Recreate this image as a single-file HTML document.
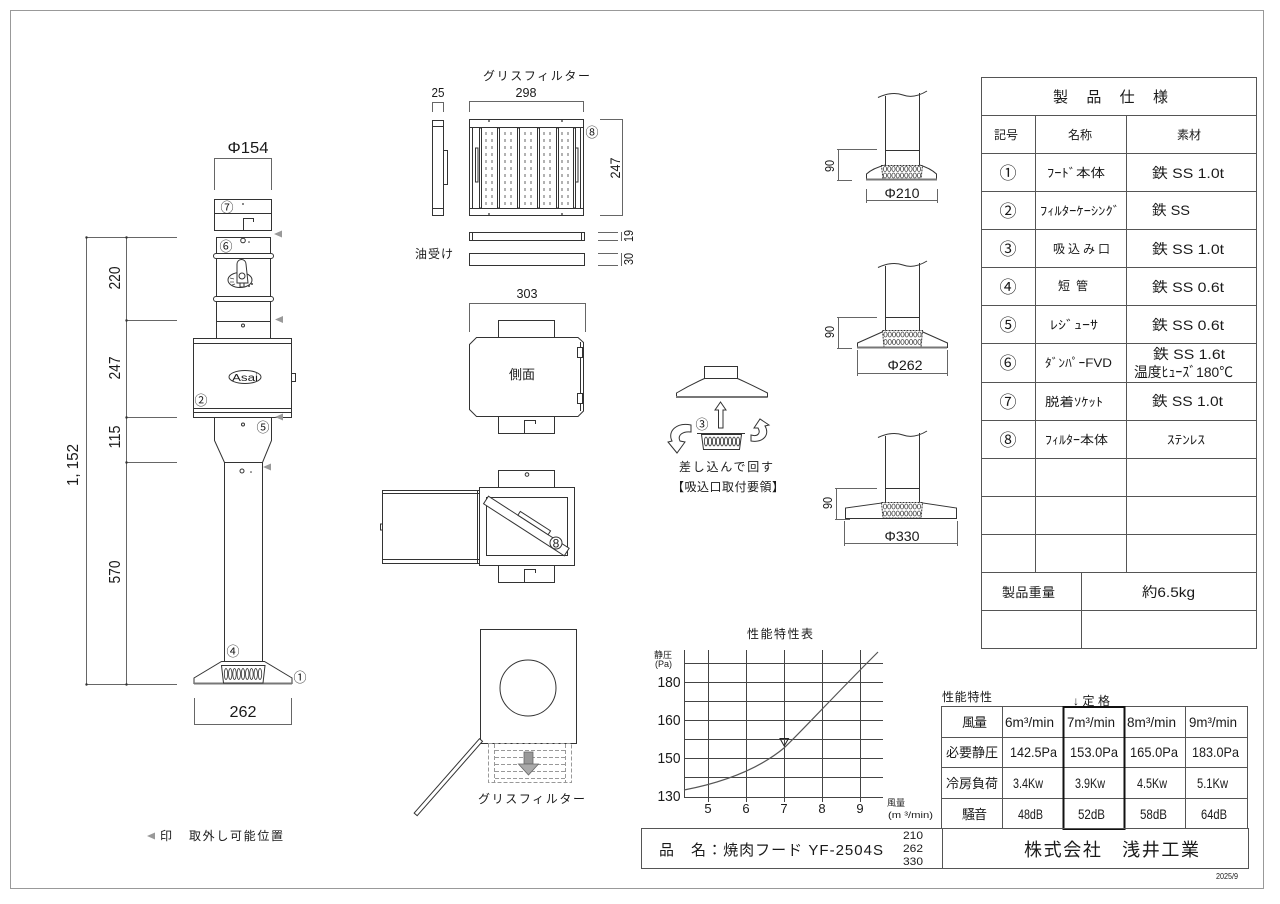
<!DOCTYPE html>
<html><head><meta charset="utf-8">
<style>
html,body{margin:0;padding:0;background:#fff;}
svg{display:block;}
text{font-family:"Liberation Sans","Noto Sans CJK JP",sans-serif;fill:#1a1a1a;}
.l{stroke:#333;stroke-width:1;fill:none;}
.lw{stroke:#333;stroke-width:1;fill:#fff;}
.d{stroke:#666;stroke-width:1;fill:none;}
.g{fill:#999;stroke:none;}
.t{stroke:#555;stroke-width:1;fill:none;}
</style></head><body>
<svg width="1280" height="904" viewBox="0 0 1280 904" xmlns="http://www.w3.org/2000/svg">
<defs>
<g id="ov9" fill="none" stroke="#444" stroke-width="0.8">
<ellipse cx="0" cy="0" rx="1.6" ry="2.5"/><ellipse cx="4.25" cy="0" rx="1.6" ry="2.5"/><ellipse cx="8.5" cy="0" rx="1.6" ry="2.5"/><ellipse cx="12.75" cy="0" rx="1.6" ry="2.5"/><ellipse cx="17" cy="0" rx="1.6" ry="2.5"/><ellipse cx="21.25" cy="0" rx="1.6" ry="2.5"/><ellipse cx="25.5" cy="0" rx="1.6" ry="2.5"/><ellipse cx="29.75" cy="0" rx="1.6" ry="2.5"/><ellipse cx="34" cy="0" rx="1.6" ry="2.5"/>
</g>
<g id="ovT" fill="none" stroke="#333" stroke-width="0.8">
<ellipse cx="0" cy="0" rx="1.7" ry="5.5"/><ellipse cx="4.25" cy="0" rx="1.7" ry="5.5"/><ellipse cx="8.5" cy="0" rx="1.7" ry="5.5"/><ellipse cx="12.75" cy="0" rx="1.7" ry="5.5"/><ellipse cx="17" cy="0" rx="1.7" ry="5.5"/><ellipse cx="21.25" cy="0" rx="1.7" ry="5.5"/><ellipse cx="25.5" cy="0" rx="1.7" ry="5.5"/><ellipse cx="29.75" cy="0" rx="1.7" ry="5.5"/><ellipse cx="34" cy="0" rx="1.7" ry="5.5"/>
</g>
</defs>

<!-- page border -->
<rect x="10.5" y="10.5" width="1253" height="878" fill="none" stroke="#999"/>

<!-- ============ LEFT ELEVATION ============ -->
<g class="d">
<line x1="86.5" y1="237" x2="86.5" y2="684"/>
<line x1="126.5" y1="237" x2="126.5" y2="684"/>
<line x1="86" y1="237.5" x2="177" y2="237.5"/>
<line x1="126" y1="320.5" x2="177" y2="320.5"/>
<line x1="126" y1="417.5" x2="177" y2="417.5"/>
<line x1="126" y1="462.5" x2="177" y2="462.5"/>
<line x1="86" y1="684.5" x2="177" y2="684.5"/>
<line x1="214.5" y1="158" x2="214.5" y2="190"/>
<line x1="271.5" y1="158" x2="271.5" y2="190"/>
<line x1="214" y1="158.5" x2="272" y2="158.5"/>
<line x1="194.5" y1="698" x2="194.5" y2="724"/>
<line x1="291.5" y1="698" x2="291.5" y2="724"/>
<line x1="194" y1="724.5" x2="292" y2="724.5"/>
</g>
<g fill="#333">
<circle cx="86.5" cy="237.5" r="1.2"/><circle cx="126.5" cy="237.5" r="1.2"/><circle cx="126.5" cy="320.5" r="1.2"/><circle cx="126.5" cy="417.5" r="1.2"/><circle cx="126.5" cy="462.5" r="1.2"/><circle cx="86.5" cy="684.5" r="1.2"/><circle cx="126.5" cy="684.5" r="1.2"/>
</g>
<text transform="translate(120,278) rotate(-90)" text-anchor="middle" font-size="16" textLength="23" lengthAdjust="spacingAndGlyphs">220</text>
<text transform="translate(120,368) rotate(-90)" text-anchor="middle" font-size="16" textLength="23" lengthAdjust="spacingAndGlyphs">247</text>
<text transform="translate(120,437) rotate(-90)" text-anchor="middle" font-size="16" textLength="23" lengthAdjust="spacingAndGlyphs">115</text>
<text transform="translate(120,572) rotate(-90)" text-anchor="middle" font-size="16" textLength="23" lengthAdjust="spacingAndGlyphs">570</text>
<text transform="translate(78,465) rotate(-90)" text-anchor="middle" font-size="16" textLength="42" lengthAdjust="spacingAndGlyphs">1, 152</text>
<text x="248" y="153" text-anchor="middle" font-size="16" textLength="41" lengthAdjust="spacingAndGlyphs">Φ154</text>

<!-- socket 7 -->
<rect class="lw" x="214.5" y="199.5" width="57" height="31"/>
<line class="l" x1="214" y1="213.5" x2="272" y2="213.5"/>
<path class="l" d="M243.5,230 V218.5 H253.5 V222"/>
<circle cx="243" cy="204" r="0.9" fill="#333"/>
<text x="227" y="212" text-anchor="middle" font-size="13">⑦</text>
<!-- damper 6 -->
<rect class="lw" x="216.5" y="237.5" width="54" height="101"/>
<rect class="lw" x="213.5" y="253.5" width="60" height="5" rx="2.5"/>
<rect class="lw" x="213.5" y="296.5" width="60" height="5" rx="2.5"/>
<line class="l" x1="216" y1="321.5" x2="271" y2="321.5"/>
<text x="226" y="251" text-anchor="middle" font-size="13">⑥</text>
<circle class="l" cx="243" cy="240.5" r="2.3"/>
<circle cx="249" cy="242" r="0.8" fill="#333"/>
<circle class="l" cx="243" cy="325.5" r="1.5"/>
<ellipse class="l" cx="240" cy="280" rx="12" ry="7.5"/>
<path class="lw" d="M237,264 a4.5,4.5 0 0 1 9,0 L248,283 L237,283 Z"/>
<circle class="l" cx="242" cy="276" r="3"/>
<rect class="l" x="240" y="283" width="4" height="4"/>
<g stroke="#444" stroke-width="0.7"><line x1="230" y1="278" x2="234" y2="279"/><line x1="230" y1="282" x2="234" y2="282"/><line x1="232" y1="285" x2="235" y2="284"/></g>
<circle cx="249" cy="286" r="1" fill="#444"/><circle cx="252" cy="284" r="1" fill="#444"/>
<!-- casing 2 -->
<rect class="lw" x="193.5" y="338.5" width="98" height="79"/>
<line class="l" x1="193" y1="343.5" x2="291" y2="343.5"/>
<line class="l" x1="193" y1="408.5" x2="291" y2="408.5"/>
<line class="l" x1="193" y1="412.5" x2="291" y2="412.5"/>
<ellipse class="l" cx="245" cy="377" rx="16" ry="6.5"/>
<text x="245" y="381" text-anchor="middle" font-size="10" textLength="26" lengthAdjust="spacingAndGlyphs">Asai</text>
<rect class="lw" x="291.5" y="373.5" width="4" height="8"/>
<text x="201" y="405" text-anchor="middle" font-size="13">②</text>
<!-- reducer 5 -->
<path class="lw" d="M214.5,417.5 H271.5 V440.5 L262.5,462.5 H224.5 L214.5,440.5 Z"/>
<circle class="l" cx="243" cy="424.5" r="1.5"/>
<text x="263" y="432" text-anchor="middle" font-size="13">⑤</text>
<!-- pipe 4 -->
<rect class="lw" x="224.5" y="462.5" width="38" height="199"/>
<circle class="l" cx="242" cy="471" r="2"/>
<circle cx="251" cy="472" r="0.8" fill="#333"/>
<text x="233" y="656" text-anchor="middle" font-size="13">④</text>
<!-- hood 1 -->
<path class="lw" d="M221.5,661.5 H264.5 L292,678 V683.5 H194 V678 Z"/>
<line x1="194" y1="683.5" x2="292" y2="683.5" stroke="#777" stroke-width="2"/>
<path class="lw" d="M221.5,665.5 H265 L263,683 H223.5 Z"/>
<use href="#ovT" x="226" y="674"/>
<text x="300" y="682" text-anchor="middle" font-size="13">①</text>
<text x="243" y="717" text-anchor="middle" font-size="16" textLength="27" lengthAdjust="spacingAndGlyphs">262</text>
<!-- markers -->
<polygon class="g" points="274,234 282,230.5 282,237.5"/>
<polygon class="g" points="275,319.5 283,316 283,323"/>
<polygon class="g" points="275,417 283,413.5 283,420.5"/>
<polygon class="g" points="263,467 271,463.5 271,470.5"/>
<!-- legend -->
<polygon class="g" points="147,836 155,832.5 155,839.5"/>
<text x="160" y="840" font-size="12">印</text>
<text x="189" y="840" font-size="12" textLength="94" lengthAdjust="spacing">取外し可能位置</text>

<!-- ============ GREASE FILTER ============ -->
<text x="483" y="80" font-size="12" textLength="107" lengthAdjust="spacing">グリスフィルター</text>
<text x="438" y="97" text-anchor="middle" font-size="13" textLength="13" lengthAdjust="spacingAndGlyphs">25</text>
<text x="526" y="97" text-anchor="middle" font-size="13" textLength="21" lengthAdjust="spacingAndGlyphs">298</text>
<g class="d">
<line x1="432" y1="102.5" x2="443" y2="102.5"/><line x1="432.5" y1="102" x2="432.5" y2="112"/><line x1="443.5" y1="102" x2="443.5" y2="112"/>
<line x1="469" y1="101.5" x2="583" y2="101.5"/><line x1="469.5" y1="101" x2="469.5" y2="112"/><line x1="583.5" y1="101" x2="583.5" y2="112"/>
<line x1="600" y1="119.5" x2="622" y2="119.5"/><line x1="600" y1="215.5" x2="622" y2="215.5"/><line x1="622.5" y1="119" x2="622.5" y2="216"/>
<line x1="598" y1="232.5" x2="618" y2="232.5"/><line x1="598" y1="240.5" x2="618" y2="240.5"/><line x1="621.5" y1="232" x2="621.5" y2="241"/>
<line x1="598" y1="253.5" x2="618" y2="253.5"/><line x1="598" y1="265.5" x2="618" y2="265.5"/><line x1="621.5" y1="253" x2="621.5" y2="266"/>
</g>
<text transform="translate(620,168) rotate(-90)" text-anchor="middle" font-size="14" textLength="21" lengthAdjust="spacingAndGlyphs">247</text>
<text transform="translate(633,236) rotate(-90)" text-anchor="middle" font-size="13" textLength="12" lengthAdjust="spacingAndGlyphs">19</text>
<text transform="translate(633,259) rotate(-90)" text-anchor="middle" font-size="13" textLength="12" lengthAdjust="spacingAndGlyphs">30</text>
<!-- side thin view -->
<rect class="lw" x="432.5" y="120.5" width="11" height="95"/>
<line class="l" x1="432" y1="126.5" x2="443" y2="126.5"/>
<line class="l" x1="432" y1="208.5" x2="443" y2="208.5"/>
<rect class="lw" x="443.5" y="150.5" width="4" height="34"/>
<!-- front -->
<rect class="lw" x="469.5" y="119.5" width="114" height="96"/>
<line class="l" x1="469" y1="127.5" x2="583" y2="127.5"/>
<line class="l" x1="469" y1="208.5" x2="583" y2="208.5"/>
<g class="l" stroke-width="0.8">
<line x1="472.5" y1="128" x2="472.5" y2="208"/><line x1="580.5" y1="128" x2="580.5" y2="208"/>
<rect x="479.5" y="128" width="2" height="80"/><rect x="497.5" y="128" width="2" height="80"/><rect x="517.5" y="128" width="2" height="80"/><rect x="537.5" y="128" width="2" height="80"/><rect x="556.5" y="128" width="2" height="80"/><rect x="573.5" y="128" width="2" height="80"/>
<rect x="475.5" y="148" width="2.5" height="34"/><rect x="575.5" y="148" width="2.5" height="34"/>
</g>
<g stroke="#666" stroke-width="1" stroke-dasharray="3 4">
<line x1="486" y1="132" x2="486" y2="206"/><line x1="492" y1="132" x2="492" y2="206"/>
<line x1="505" y1="132" x2="505" y2="206"/><line x1="511" y1="132" x2="511" y2="206"/>
<line x1="525" y1="132" x2="525" y2="206"/><line x1="531" y1="132" x2="531" y2="206"/>
<line x1="544" y1="132" x2="544" y2="206"/><line x1="550" y1="132" x2="550" y2="206"/>
<line x1="562" y1="132" x2="562" y2="206"/><line x1="568" y1="132" x2="568" y2="206"/>
</g>
<g fill="#555"><circle cx="489" cy="121" r="1"/><circle cx="562" cy="121" r="1"/><circle cx="489" cy="214" r="1"/><circle cx="562" cy="214" r="1"/></g>
<text x="592" y="137" text-anchor="middle" font-size="13">⑧</text>
<!-- oil pans -->
<rect class="lw" x="469.5" y="232.5" width="115" height="8"/>
<line class="l" x1="472.5" y1="232" x2="472.5" y2="241"/><line class="l" x1="581.5" y1="232" x2="581.5" y2="241"/>
<rect class="lw" x="469.5" y="253.5" width="115" height="12"/>
<text x="415" y="258" font-size="12" textLength="38" lengthAdjust="spacing">油受け</text>

<!-- ============ SIDE VIEW ============ -->
<text x="527" y="298" text-anchor="middle" font-size="13" textLength="21" lengthAdjust="spacingAndGlyphs">303</text>
<g class="d">
<line x1="469" y1="303.5" x2="585" y2="303.5"/><line x1="469.5" y1="303" x2="469.5" y2="332"/><line x1="585.5" y1="303" x2="585.5" y2="332"/>
</g>
<rect class="lw" x="498.5" y="320.5" width="56" height="17"/>
<path class="lw" d="M476.5,337.5 H578 L583.5,342.5 V411 L578,416.5 H476.5 L469.5,409.5 V344.5 Z"/>
<line class="l" x1="580.5" y1="342" x2="580.5" y2="411"/>
<rect class="lw" x="577.5" y="347.5" width="5" height="10"/><rect class="lw" x="577.5" y="393.5" width="5" height="10"/>
<text x="522" y="379" text-anchor="middle" font-size="13">側面</text>
<rect class="lw" x="498.5" y="416.5" width="56" height="17"/>
<path class="l" d="M524.5,433 V420.5 H535.5 V424"/>

<!-- door open view -->
<rect class="lw" x="498.5" y="470.5" width="56" height="17"/>
<circle class="l" cx="527" cy="474.5" r="1.8"/>
<rect class="lw" x="382.5" y="490.5" width="97" height="73"/>
<line class="l" x1="382" y1="493.5" x2="479" y2="493.5"/>
<line class="l" x1="382" y1="559.5" x2="479" y2="559.5"/>
<line class="l" x1="477.5" y1="490" x2="477.5" y2="563"/>
<rect class="lw" x="380.5" y="524" width="2" height="6"/>
<rect class="lw" x="479.5" y="487.5" width="95" height="78"/>
<rect class="l" x="486.5" y="497.5" width="81" height="58"/>
<g transform="translate(486,500) rotate(32.8)">
<rect class="lw" x="0" y="-4.5" width="96" height="9"/>
<rect class="lw" x="35" y="-9" width="36" height="4.5"/>
</g>
<circle class="lw" cx="556" cy="543" r="6"/>
<text x="556" y="547.5" text-anchor="middle" font-size="12">8</text>
<rect class="lw" x="498.5" y="565.5" width="56" height="17"/>
<path class="l" d="M524.5,582 V569.5 H535.5 V573"/>

<!-- bottom view -->
<rect class="lw" x="480.5" y="629.5" width="96" height="114"/>
<circle class="l" cx="528" cy="688" r="28"/>
<g transform="translate(481,740) rotate(131.3)">
<rect class="lw" x="0" y="-2" width="99" height="4"/>
</g>
<g stroke="#999" stroke-width="1" fill="none" stroke-dasharray="4 2">
<rect x="488.5" y="743.5" width="83" height="39"/>
<line x1="494.5" y1="744" x2="494.5" y2="782"/><line x1="565.5" y1="744" x2="565.5" y2="782"/>
<line x1="495" y1="750.5" x2="565" y2="750.5"/><line x1="495" y1="757.5" x2="565" y2="757.5"/><line x1="495" y1="764.5" x2="565" y2="764.5"/><line x1="495" y1="771.5" x2="565" y2="771.5"/><line x1="495" y1="778.5" x2="565" y2="778.5"/>
</g>
<rect x="524" y="752" width="9" height="12" fill="#999" stroke="#666" stroke-width="0.8"/>
<polygon points="518.5,764 538.5,764 528.5,775" fill="#aaa" stroke="#666" stroke-width="0.8"/>
<text x="478" y="803" font-size="12" textLength="107" lengthAdjust="spacing">グリスフィルター</text>

<!-- ============ HOODS ============ -->
<!-- hood 1 -->
<path class="l" d="M885.5,96 V150.5 M919.5,93 V150.5"/>
<path class="l" d="M878,97.5 Q892,91 903,95 T927,91"/>
<line class="l" x1="885" y1="150.5" x2="919" y2="150.5"/>
<path class="lw" d="M885.5,150.5 H919.5 V165 Q930,168 936.5,174 V179.5 H866.5 V174 Q873,168 885.5,165 Z"/>
<path class="lw" d="M881.5,165.5 H922.5 L921,179 H883 Z" stroke-dasharray="2 1"/>
<use href="#ov9" x="885" y="169"/><use href="#ov9" x="885" y="175.5"/>
<line x1="866" y1="179.5" x2="937" y2="179.5" stroke="#777" stroke-width="2"/>
<g class="d">
<line x1="837" y1="149.5" x2="877" y2="149.5"/><line x1="837" y1="180.5" x2="852" y2="180.5"/><line x1="838.5" y1="149" x2="838.5" y2="181"/>
<line x1="866" y1="200.5" x2="937" y2="200.5"/><line x1="866.5" y1="189" x2="866.5" y2="203"/><line x1="937.5" y1="189" x2="937.5" y2="203"/>
</g>
<text transform="translate(834,166) rotate(-90)" text-anchor="middle" font-size="13" textLength="12" lengthAdjust="spacingAndGlyphs">90</text>
<text x="902" y="198" text-anchor="middle" font-size="14" textLength="35" lengthAdjust="spacingAndGlyphs">Φ210</text>

<!-- hood 2 -->
<path class="l" d="M885.5,266 V317.5 M919.5,263 V317.5"/>
<path class="l" d="M878,267.5 Q892,261 903,265 T927,261"/>
<line class="l" x1="885" y1="317.5" x2="919" y2="317.5"/>
<path class="lw" d="M885.5,317.5 H919.5 V330.5 L947.5,343 V347.5 H857.5 V343 L885.5,330.5 Z"/>
<path class="lw" d="M882.5,330.5 H922.5 L921,347 H884 Z" stroke-dasharray="2 1"/>
<use href="#ov9" x="885.5" y="334.5"/><use href="#ov9" x="885.5" y="342"/>
<line x1="857" y1="347.5" x2="947" y2="347.5" stroke="#777" stroke-width="2"/>
<g class="d">
<line x1="837" y1="317.5" x2="877" y2="317.5"/><line x1="837" y1="348.5" x2="852" y2="348.5"/><line x1="838.5" y1="317" x2="838.5" y2="349"/>
<line x1="857" y1="373.5" x2="947" y2="373.5"/><line x1="857.5" y1="350" x2="857.5" y2="376"/><line x1="947.5" y1="350" x2="947.5" y2="376"/>
</g>
<text transform="translate(834,332) rotate(-90)" text-anchor="middle" font-size="13" textLength="12" lengthAdjust="spacingAndGlyphs">90</text>
<text x="905" y="370" text-anchor="middle" font-size="14" textLength="35" lengthAdjust="spacingAndGlyphs">Φ262</text>

<!-- hood 3 -->
<path class="l" d="M885.5,436 V488.5 M919.5,433 V488.5"/>
<path class="l" d="M878,437.5 Q892,431 903,435 T927,431"/>
<line class="l" x1="885" y1="488.5" x2="919" y2="488.5"/>
<path class="lw" d="M885.5,488.5 H919.5 V502.5 L956.5,508 V518.5 H845.5 V508 L885.5,502.5 Z"/>
<path class="lw" d="M881.5,502.5 H922.5 L921,518 H883 Z" stroke-dasharray="2 1"/>
<use href="#ov9" x="885" y="506.5"/><use href="#ov9" x="885" y="513.5"/>
<g class="d">
<line x1="835" y1="488.5" x2="877" y2="488.5"/><line x1="835" y1="519.5" x2="850" y2="519.5"/><line x1="836.5" y1="488" x2="836.5" y2="520"/>
<line x1="844" y1="543.5" x2="957" y2="543.5"/><line x1="844.5" y1="521" x2="844.5" y2="546"/><line x1="957.5" y1="521" x2="957.5" y2="546"/>
</g>
<text transform="translate(832,503) rotate(-90)" text-anchor="middle" font-size="13" textLength="12" lengthAdjust="spacingAndGlyphs">90</text>
<text x="902" y="541" text-anchor="middle" font-size="14" textLength="35" lengthAdjust="spacingAndGlyphs">Φ330</text>

<!-- ============ INSERT DIAGRAM ============ -->
<rect class="lw" x="704.5" y="366.5" width="33" height="12"/>
<path class="lw" d="M704.5,378.5 H737.5 Q752,385 767.5,393 V397 H676.5 V393 Q690,385 704.5,378.5 Z"/>
<line x1="676" y1="397" x2="767" y2="397" stroke="#777" stroke-width="2"/>
<polygon class="lw" points="718.5,428 718.5,410 715,410 720.5,402 726,410 723,410 723,428"/>
<text x="702" y="429" text-anchor="middle" font-size="13">③</text>
<line class="l" x1="697" y1="433.5" x2="745" y2="433.5"/>
<path class="lw" d="M701.5,434.5 H741.5 L739.5,449.5 H703.5 Z"/>
<g fill="none" stroke="#333" stroke-width="0.8">
<ellipse cx="706" cy="441.5" rx="1.6" ry="4.5"/><ellipse cx="710" cy="441.5" rx="1.6" ry="4.5"/><ellipse cx="714" cy="441.5" rx="1.6" ry="4.5"/><ellipse cx="718" cy="441.5" rx="1.6" ry="4.5"/><ellipse cx="722" cy="441.5" rx="1.6" ry="4.5"/><ellipse cx="726" cy="441.5" rx="1.6" ry="4.5"/><ellipse cx="730" cy="441.5" rx="1.6" ry="4.5"/><ellipse cx="734" cy="441.5" rx="1.6" ry="4.5"/><ellipse cx="738" cy="441.5" rx="1.6" ry="4.5"/>
</g>
<path class="lw" d="M691,425 C677,422 667,431 672,441 L668,442 L677,453 L685,442 L680,441 C677,435 683,431 691,432 Z"/>
<path class="lw" d="M751,441 C764,443 770,434 765,426 L769,425 L760,419 L754,428 L758,428 C761,433 758,437 751,435 Z"/>
<text x="679" y="471" font-size="12" textLength="94" lengthAdjust="spacing">差し込んで回す</text>
<text x="672" y="491" font-size="12" textLength="112" lengthAdjust="spacing">【吸込口取付要領】</text>

<!-- ============ SPEC TABLE ============ -->
<g class="t">
<rect x="981.5" y="77.5" width="275" height="571"/>
<line x1="981" y1="115.5" x2="1256" y2="115.5"/>
<line x1="981" y1="153.5" x2="1256" y2="153.5"/>
<line x1="981" y1="191.5" x2="1256" y2="191.5"/>
<line x1="981" y1="229.5" x2="1256" y2="229.5"/>
<line x1="981" y1="267.5" x2="1256" y2="267.5"/>
<line x1="981" y1="305.5" x2="1256" y2="305.5"/>
<line x1="981" y1="343.5" x2="1256" y2="343.5"/>
<line x1="981" y1="382.5" x2="1256" y2="382.5"/>
<line x1="981" y1="420.5" x2="1256" y2="420.5"/>
<line x1="981" y1="458.5" x2="1256" y2="458.5"/>
<line x1="981" y1="496.5" x2="1256" y2="496.5"/>
<line x1="981" y1="534.5" x2="1256" y2="534.5"/>
<line x1="981" y1="572.5" x2="1256" y2="572.5"/>
<line x1="981" y1="610.5" x2="1256" y2="610.5"/>
<line x1="1035.5" y1="115" x2="1035.5" y2="572"/>
<line x1="1126.5" y1="115" x2="1126.5" y2="572"/>
<line x1="1081.5" y1="572" x2="1081.5" y2="648"/>
</g>
<text x="1053" y="102" font-size="15" textLength="115" lengthAdjust="spacing">製　品　仕　様</text>
<text x="1006" y="139" text-anchor="middle" font-size="12">記号</text>
<text x="1080" y="139" text-anchor="middle" font-size="12">名称</text>
<text x="1189" y="139" text-anchor="middle" font-size="12">素材</text>
<g font-size="17" text-anchor="middle">
<text x="1008" y="179">①</text><text x="1008" y="217">②</text><text x="1008" y="255">③</text><text x="1008" y="293">④</text><text x="1008" y="331">⑤</text><text x="1008" y="369">⑥</text><text x="1008" y="408">⑦</text><text x="1008" y="446">⑧</text>
</g>
<g font-size="12">
<text x="1047" y="177" textLength="58" lengthAdjust="spacingAndGlyphs">ﾌｰﾄﾞ本体</text>
<text x="1040" y="215" textLength="80" lengthAdjust="spacingAndGlyphs">ﾌｨﾙﾀｰｹｰｼﾝｸﾞ</text>
<text x="1053" y="253" textLength="57" lengthAdjust="spacing">吸込み口</text>
<text x="1058" y="290" textLength="30" lengthAdjust="spacing">短管</text>
<text x="1050" y="329" textLength="48" lengthAdjust="spacingAndGlyphs">ﾚｼﾞｭｰｻ</text>
<text x="1045" y="367" textLength="67" lengthAdjust="spacingAndGlyphs">ﾀﾞﾝﾊﾟｰFVD</text>
<text x="1045" y="406" textLength="58" lengthAdjust="spacingAndGlyphs">脱着ｿｹｯﾄ</text>
<text x="1045" y="444" textLength="63" lengthAdjust="spacingAndGlyphs">ﾌｨﾙﾀｰ本体</text>
</g>
<g font-size="14">
<text x="1152" y="178" textLength="72" lengthAdjust="spacingAndGlyphs">鉄 SS 1.0t</text>
<text x="1152" y="215" textLength="38" lengthAdjust="spacingAndGlyphs">鉄 SS</text>
<text x="1152" y="254" textLength="72" lengthAdjust="spacingAndGlyphs">鉄 SS 1.0t</text>
<text x="1152" y="292" textLength="72" lengthAdjust="spacingAndGlyphs">鉄 SS 0.6t</text>
<text x="1152" y="330" textLength="72" lengthAdjust="spacingAndGlyphs">鉄 SS 0.6t</text>
<text x="1153" y="359" textLength="72" lengthAdjust="spacingAndGlyphs">鉄 SS 1.6t</text>
<text x="1134" y="377" textLength="99" lengthAdjust="spacingAndGlyphs">温度ﾋｭｰｽﾞ180℃</text>
<text x="1152" y="406" textLength="71" lengthAdjust="spacingAndGlyphs">鉄 SS 1.0t</text>
<text x="1167" y="444" font-size="12" textLength="38" lengthAdjust="spacingAndGlyphs">ｽﾃﾝﾚｽ</text>
<text x="1002" y="597" font-size="13" textLength="53" lengthAdjust="spacing">製品重量</text>
<text x="1142" y="597" textLength="53" lengthAdjust="spacingAndGlyphs">約6.5kg</text>
</g>

<!-- ============ CHART ============ -->
<text x="780" y="638" text-anchor="middle" font-size="12" textLength="66" lengthAdjust="spacing">性能特性表</text>
<g stroke="#444" stroke-width="1" fill="none">
<line x1="684.5" y1="650" x2="684.5" y2="797"/>
<line x1="708.5" y1="650" x2="708.5" y2="802"/>
<line x1="746.5" y1="650" x2="746.5" y2="802"/>
<line x1="784.5" y1="650" x2="784.5" y2="802"/>
<line x1="822.5" y1="650" x2="822.5" y2="802"/>
<line x1="860.5" y1="650" x2="860.5" y2="802"/>
<line x1="684" y1="663.5" x2="883" y2="663.5"/>
<line x1="684" y1="682.5" x2="883" y2="682.5"/>
<line x1="684" y1="701.5" x2="883" y2="701.5"/>
<line x1="684" y1="720.5" x2="883" y2="720.5"/>
<line x1="684" y1="739.5" x2="883" y2="739.5"/>
<line x1="684" y1="758.5" x2="883" y2="758.5"/>
<line x1="684" y1="777.5" x2="883" y2="777.5"/>
<line x1="684" y1="797.5" x2="883" y2="797.5"/>
</g>
<path d="M684,790 C715,784 755,772 784,748 C800,733 830,700 878,652" fill="none" stroke="#555" stroke-width="1.2"/>
<polygon points="780,738.5 788.5,738.5 784.2,746" fill="none" stroke="#222" stroke-width="1"/>
<text x="654" y="658" font-size="9">静圧</text>
<text x="655" y="667" font-size="9">(Pa)</text>
<g font-size="15" text-anchor="middle">
<text x="669" y="687" textLength="23" lengthAdjust="spacingAndGlyphs">180</text>
<text x="669" y="725" textLength="23" lengthAdjust="spacingAndGlyphs">160</text>
<text x="669" y="763" textLength="23" lengthAdjust="spacingAndGlyphs">150</text>
<text x="669" y="801" textLength="23" lengthAdjust="spacingAndGlyphs">130</text>
</g>
<g font-size="13" text-anchor="middle">
<text x="708" y="813">5</text><text x="746" y="813">6</text><text x="784" y="813">7</text><text x="822" y="813">8</text><text x="860" y="813">9</text>
</g>
<text x="887" y="806" font-size="9">風量</text>
<text x="888" y="818" font-size="9" textLength="45" lengthAdjust="spacingAndGlyphs">(m ³/min)</text>

<!-- ============ PERFORMANCE TABLE ============ -->
<text x="942" y="701" font-size="12" textLength="50" lengthAdjust="spacing">性能特性</text>
<text x="1073" y="705" font-size="12" textLength="37" lengthAdjust="spacing">↓定格</text>
<g class="t">
<line x1="941" y1="706.5" x2="1248" y2="706.5"/>
<line x1="941" y1="737.5" x2="1248" y2="737.5"/>
<line x1="941" y1="767.5" x2="1248" y2="767.5"/>
<line x1="941" y1="798.5" x2="1248" y2="798.5"/>
<line x1="941.5" y1="706" x2="941.5" y2="829"/>
<line x1="1002.5" y1="706" x2="1002.5" y2="829"/>
<line x1="1185.5" y1="706" x2="1185.5" y2="829"/>
<line x1="1247.5" y1="706" x2="1247.5" y2="829"/>
</g>
<rect x="1063.5" y="707" width="61" height="122" fill="none" stroke="#111" stroke-width="2"/>
<g font-size="13">
<text x="962" y="727" textLength="25" lengthAdjust="spacing">風量</text>
<text x="946" y="757" textLength="52" lengthAdjust="spacing">必要静圧</text>
<text x="946" y="788" textLength="52" lengthAdjust="spacing">冷房負荷</text>
<text x="962" y="819" textLength="25" lengthAdjust="spacing">騒音</text>
</g>
<g font-size="14">
<text x="1005" y="727" textLength="49" lengthAdjust="spacingAndGlyphs">6m³/min</text>
<text x="1067" y="727" textLength="48" lengthAdjust="spacingAndGlyphs">7m³/min</text>
<text x="1127" y="727" textLength="49" lengthAdjust="spacingAndGlyphs">8m³/min</text>
<text x="1189" y="727" textLength="48" lengthAdjust="spacingAndGlyphs">9m³/min</text>
<text x="1010" y="757" textLength="47" lengthAdjust="spacingAndGlyphs">142.5Pa</text>
<text x="1070" y="757" textLength="48" lengthAdjust="spacingAndGlyphs">153.0Pa</text>
<text x="1130" y="757" textLength="48" lengthAdjust="spacingAndGlyphs">165.0Pa</text>
<text x="1192" y="757" textLength="47" lengthAdjust="spacingAndGlyphs">183.0Pa</text>
<text x="1013" y="788" textLength="30" lengthAdjust="spacingAndGlyphs">3.4Kw</text>
<text x="1075" y="788" textLength="30" lengthAdjust="spacingAndGlyphs">3.9Kw</text>
<text x="1137" y="788" textLength="30" lengthAdjust="spacingAndGlyphs">4.5Kw</text>
<text x="1197" y="788" textLength="31" lengthAdjust="spacingAndGlyphs">5.1Kw</text>
<text x="1018" y="819" textLength="25" lengthAdjust="spacingAndGlyphs">48dB</text>
<text x="1078" y="819" textLength="27" lengthAdjust="spacingAndGlyphs">52dB</text>
<text x="1140" y="819" textLength="27" lengthAdjust="spacingAndGlyphs">58dB</text>
<text x="1201" y="819" textLength="26" lengthAdjust="spacingAndGlyphs">64dB</text>
</g>

<!-- ============ TITLE BLOCK ============ -->
<rect x="641.5" y="828.5" width="607" height="40" fill="none" stroke="#555"/>
<line x1="942.5" y1="829" x2="942.5" y2="868" stroke="#555"/>
<text x="659" y="855" font-size="15" textLength="224" lengthAdjust="spacing">品　名：焼肉フード YF-2504S</text>
<text x="903" y="839" font-size="11" textLength="20" lengthAdjust="spacingAndGlyphs">210</text>
<text x="903" y="852" font-size="11" textLength="20" lengthAdjust="spacingAndGlyphs">262</text>
<text x="903" y="865" font-size="11" textLength="20" lengthAdjust="spacingAndGlyphs">330</text>
<text x="1024" y="856" font-size="18" textLength="175" lengthAdjust="spacing">株式会社　浅井工業</text>
<text x="1216" y="879" font-size="8" textLength="22" lengthAdjust="spacingAndGlyphs">2025/9</text>
</svg>
</body></html>
